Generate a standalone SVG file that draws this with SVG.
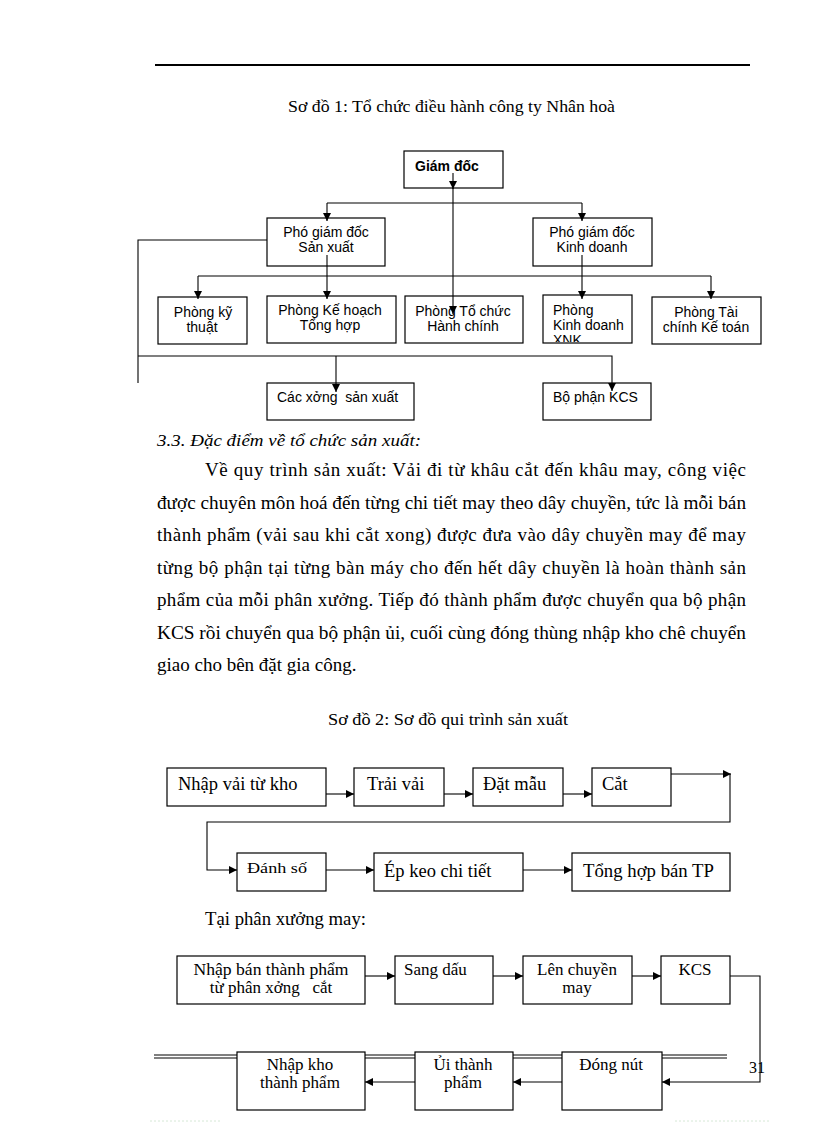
<svg xmlns="http://www.w3.org/2000/svg" width="816" height="1123" viewBox="0 0 816 1123">
<defs>
<marker id="ah" markerWidth="8" markerHeight="8" refX="8" refY="4" orient="auto" markerUnits="userSpaceOnUse">
<path d="M0,0 L8,4 L0,8 Z" fill="#000"/>
</marker>
<clipPath id="clipXNK"><rect x="543" y="295" width="89" height="47"/></clipPath>
<style>
.box{fill:#fff;stroke:#000;stroke-width:1.2}
.ln{fill:none;stroke:#000;stroke-width:1.1}
.arr{fill:none;stroke:#000;stroke-width:1.1;marker-end:url(#ah)}
.sans{font-family:"Liberation Sans",Arial,sans-serif;font-size:14px;fill:#000}
.serif{font-family:"Liberation Serif","Times New Roman",serif;fill:#000}
.mid{text-anchor:middle}
.p{font-size:19px}
.d2{font-size:18.5px}
.d3{font-size:17px}
</style>
</defs>
<rect width="816" height="1123" fill="#fff"/>

<!-- header line -->
<line x1="155" y1="65" x2="750" y2="65" stroke="#000" stroke-width="2"/>

<text class="serif" x="288" y="112" font-size="16" textLength="327" lengthAdjust="spacingAndGlyphs">Sơ đồ 1: Tổ chức điều hành  công ty Nhân hoà</text>

<!-- Diagram 1 nodes -->
<g id="giam-doc"><rect class="box" x="404" y="151" width="99" height="37"/><text class="sans" x="415" y="171" font-weight="bold" font-size="15">Giám đốc</text></g>
<g id="pgd-sx"><rect class="box" x="267" y="218" width="118" height="48"/><text class="sans mid" x="326" y="237">Phó giám đốc</text><text class="sans mid" x="326" y="252">Sản xuất</text></g>
<g id="pgd-kd"><rect class="box" x="533" y="218" width="119" height="48"/><text class="sans mid" x="592" y="237">Phó giám đốc</text><text class="sans mid" x="592" y="252">Kinh doanh</text></g>
<g id="p-kythuat"><rect class="box" x="158" y="297" width="89" height="47"/><text class="sans mid" x="203" y="317">Phòng kỹ</text><text class="sans mid" x="202" y="332">thuật</text></g>
<g id="p-kehoach"><rect class="box" x="267" y="296" width="129" height="47"/><text class="sans mid" x="330" y="315">Phòng Kế hoạch</text><text class="sans mid" x="330" y="330">Tổng hợp</text></g>
<g id="p-tochuc"><rect class="box" x="405" y="296" width="118" height="47"/><text class="sans mid" x="463" y="316">Phòng Tổ chức</text><text class="sans mid" x="463" y="331">Hành chính</text></g>
<g id="p-kinhdoanh"><rect class="box" x="543" y="295" width="89" height="48"/><g clip-path="url(#clipXNK)"><text class="sans" x="553" y="315">Phòng</text><text class="sans" x="553" y="330">Kinh doanh</text><text class="sans" x="553" y="345">XNK</text></g></g>
<g id="p-taichinh"><rect class="box" x="652" y="297" width="109" height="47"/><text class="sans mid" x="706" y="317">Phòng Tài</text><text class="sans mid" x="706" y="332">chính Kế toán</text></g>
<g id="cac-xuong"><rect class="box" x="267" y="383" width="147" height="37"/><text class="sans" x="277" y="402" xml:space="preserve">Các xởng  sản xuất</text></g>
<g id="bp-kcs"><rect class="box" x="543" y="383" width="108" height="37"/><text class="sans" x="553" y="402">Bộ phận KCS</text></g>

<!-- Diagram 1 connectors -->
<g id="connectors1">
<line class="arr" x1="453" y1="173" x2="453" y2="189"/>
<line class="ln" x1="327" y1="203" x2="582" y2="203"/>
<line class="arr" x1="327" y1="203" x2="327" y2="221"/>
<line class="arr" x1="582" y1="203" x2="582" y2="221"/>
<line class="arr" x1="453" y1="188" x2="453" y2="314"/>
<polyline class="ln" points="267,240 138,240 138,383"/>
<polyline class="arr" points="138,356 612,356 612,391"/>
<line class="arr" x1="336" y1="356" x2="336" y2="392"/>
<line class="arr" x1="327" y1="255" x2="327" y2="299"/>
<line class="arr" x1="582" y1="255" x2="582" y2="299"/>
<line class="ln" x1="198" y1="276" x2="711" y2="276"/>
<line class="arr" x1="198" y1="276" x2="198" y2="299"/>
<line class="arr" x1="711" y1="276" x2="711" y2="299"/>
</g>

<!-- Paragraph -->
<text class="serif" x="157" y="446" font-size="17.5" font-style="italic" textLength="264" lengthAdjust="spacingAndGlyphs">3.3. Đặc điểm về tổ chức sản xuất:</text>
<text class="serif p" x="205" y="476" textLength="541" lengthAdjust="spacing">Về quy trình sản xuất: Vải  đi từ khâu cắt đến khâu may, công việc</text>
<text class="serif p" x="157" y="509" textLength="589" lengthAdjust="spacingAndGlyphs">được chuyên môn hoá đến từng chi tiết may theo dây chuyền, tức là mỗi bán</text>
<text class="serif p" x="157" y="541" textLength="589" lengthAdjust="spacing">thành phẩm (vải sau khi cắt xong) được đưa vào dây chuyền may để may</text>
<text class="serif p" x="157" y="574" textLength="589" lengthAdjust="spacing">từng bộ phận tại từng bàn máy cho đến hết dây chuyền là hoàn thành sản</text>
<text class="serif p" x="157" y="606" textLength="589" lengthAdjust="spacing">phẩm của mỗi phân xưởng. Tiếp đó thành phẩm được chuyển qua bộ phận</text>
<text class="serif p" x="157" y="639" textLength="589" lengthAdjust="spacingAndGlyphs">KCS rồi chuyển qua bộ phận ủi, cuối cùng đóng thùng nhập kho chê chuyển</text>
<text class="serif p" x="157" y="671">giao cho bên đặt gia công.</text>

<text class="serif" x="328" y="725" font-size="16" textLength="240" lengthAdjust="spacingAndGlyphs">Sơ đồ 2: Sơ đồ qui trình sản xuất</text>

<!-- Diagram 2 nodes -->
<g id="nhap-vai"><rect class="box" x="167" y="768" width="159" height="38"/><text class="serif d2" x="178" y="790">Nhập  vải từ kho</text></g>
<g id="trai-vai"><rect class="box" x="354" y="768" width="90" height="38"/><text class="serif d2" x="367" y="790">Trải vải</text></g>
<g id="dat-mau"><rect class="box" x="473" y="768" width="90" height="38"/><text class="serif d2" x="483" y="790">Đặt mẫu</text></g>
<g id="cat"><rect class="box" x="592" y="768" width="79" height="38"/><text class="serif d2" x="602" y="790">Cắt</text></g>
<g id="danh-so"><rect class="box" x="237" y="853" width="89" height="38"/><text class="serif" x="247" y="873" font-size="15.5" textLength="60" lengthAdjust="spacingAndGlyphs">Đánh số</text></g>
<g id="ep-keo"><rect class="box" x="374" y="853" width="149" height="38"/><text class="serif" x="384" y="877" font-size="18.5">Ép keo chi tiết</text></g>
<g id="tong-hop"><rect class="box" x="572" y="853" width="158" height="38"/><text class="serif" x="583" y="877" font-size="18.5" textLength="131" lengthAdjust="spacingAndGlyphs">Tổng hợp bán TP</text></g>

<g id="connectors2">
<line class="arr" x1="326" y1="794" x2="354" y2="794"/>
<line class="arr" x1="444" y1="794" x2="473" y2="794"/>
<line class="arr" x1="563" y1="794" x2="592" y2="794"/>
<line class="arr" x1="671" y1="774" x2="731" y2="774"/>
<polyline class="arr" points="730,774 730,822 207,822 207,870 237,870"/>
<line class="arr" x1="326" y1="870" x2="374" y2="870"/>
<line class="arr" x1="523" y1="870" x2="572" y2="870"/>
</g>

<text class="serif" x="205" y="925" font-size="18.5" textLength="161" lengthAdjust="spacingAndGlyphs">Tại phân xưởng may:</text>

<!-- footer double line -->
<line x1="154" y1="1055" x2="727" y2="1055" stroke="#000" stroke-width="1"/>
<line x1="154" y1="1058" x2="727" y2="1058" stroke="#000" stroke-width="1"/>
<text class="serif" x="749" y="1073" font-size="16">31</text>

<!-- Diagram 3 nodes -->
<g id="nhap-btp"><rect class="box" x="177" y="956" width="188" height="48"/><text class="serif d3 mid" x="271" y="975" textLength="155" lengthAdjust="spacingAndGlyphs">Nhập bán thành phẩm</text><text class="serif d3 mid" x="271" y="993" xml:space="preserve">từ phân xởng   cắt</text></g>
<g id="sang-dau"><rect class="box" x="395" y="956" width="98" height="48"/><text class="serif d3" x="404" y="975">Sang dấu</text></g>
<g id="len-chuyen"><rect class="box" x="523" y="956" width="109" height="48"/><text class="serif d3 mid" x="577" y="975">Lên chuyền</text><text class="serif d3 mid" x="577" y="993">may</text></g>
<g id="kcs"><rect class="box" x="661" y="956" width="69" height="48"/><text class="serif d3 mid" x="695" y="975">KCS</text></g>
<g id="nhap-kho"><rect class="box" x="237" y="1052" width="128" height="58"/><text class="serif d3 mid" x="300" y="1070">Nhập kho</text><text class="serif d3 mid" x="300" y="1088">thành phẩm</text></g>
<g id="ui-tp"><rect class="box" x="415" y="1052" width="98" height="58"/><text class="serif d3 mid" x="463" y="1070">Ủi thành</text><text class="serif d3 mid" x="463" y="1088">phẩm</text></g>
<g id="dong-nut"><rect class="box" x="562" y="1052" width="100" height="58"/><text class="serif d3 mid" x="611" y="1070">Đóng nút</text></g>

<g id="connectors3">
<line class="arr" x1="365" y1="976" x2="395" y2="976"/>
<line class="arr" x1="493" y1="976" x2="523" y2="976"/>
<line class="arr" x1="632" y1="976" x2="661" y2="976"/>
<polyline class="arr" points="730,976 760,976 760,1082 662,1082"/>
<line class="arr" x1="562" y1="1082" x2="513" y2="1082"/>
<line class="arr" x1="415" y1="1082" x2="365" y2="1082"/>
</g>

<line x1="150" y1="1121" x2="222" y2="1121" stroke="#d6e8d6" stroke-width="1" stroke-dasharray="2,2"/>
<line x1="675" y1="1121" x2="770" y2="1121" stroke="#d6e8d6" stroke-width="1" stroke-dasharray="2,2"/>
</svg>
